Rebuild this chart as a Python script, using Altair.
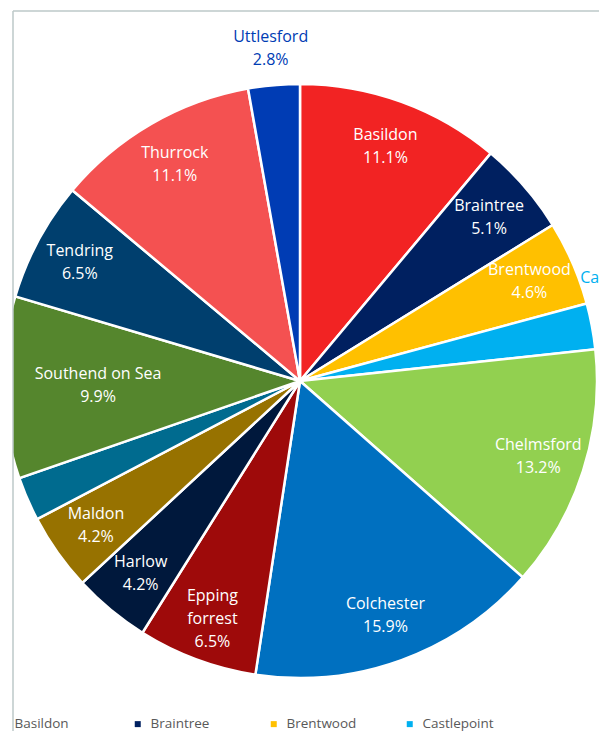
import altair as alt
import pandas as pd

names = ["Basildon", "Braintree", "Brentwood", "Castlepoint", "Chelmsford",
         "Colchester", "Epping forrest", "Harlow", "Maldon", "Rochford",
         "Southend on Sea", "Tendring", "Thurrock", "Uttlesford"]
label_names = ["Basildon", "Braintree", "Brentwood", "Castlepoint", "Chelmsford",
               "Colchester", "Epping\nforrest", "Harlow", "Maldon", "Rochford",
               "Southend on Sea", "Tendring", "Thurrock", "Uttlesford"]
values = [11.1, 5.1, 4.6, 2.5, 13.2, 15.9, 6.5, 4.2, 4.2, 2.4, 9.9, 6.5, 11.1, 2.8]
colors = ["#F22323", "#002060", "#FFC000", "#00B0F0", "#92D050",
          "#0070C0", "#9E0A0A", "#00183C", "#977200", "#006B8F",
          "#55862D", "#003F6E", "#F45151", "#003CB4"]

df = pd.DataFrame({
    "idx": list(range(len(names))),
    "name": names,
    "label_name": label_names,
    "value": values,
})
total = sum(values)

W, H = 586, 720
CX, CY = 287, 370
R = 297
FONT = "Open Sans"
FRAME = "#BCC9C9"
LH = 23

color_scale = alt.Scale(domain=names, range=colors)
theta_scale = alt.Scale(domain=[0, total])

base = alt.Chart(df).transform_window(
    cum="sum(value)", sort=[alt.SortField("idx")], frame=[None, 0]
).transform_calculate(
    start="datum.cum - datum.value",
    mid="datum.cum - datum.value / 2",
    label="datum.label_name + '\\n' + format(datum.value, '.1f') + '%'",
)

pie = base.mark_arc(outerRadius=R, stroke="white", strokeWidth=2.5, clip=True).encode(
    x=alt.value(CX),
    y=alt.value(CY),
    theta=alt.Theta("start:Q", scale=theta_scale),
    theta2="cum:Q",
    color=alt.Color(
        "name:N",
        scale=color_scale,
        sort=names,
        legend=alt.Legend(
            title=None,
            orient="none",
            direction="horizontal",
            legendX=-18,
            legendY=706,
            columns=4,
            symbolType="square",
            symbolSize=36,
            symbolStrokeWidth=0,
            labelFontSize=13.5,
            labelFont=FONT,
            labelColor="#595959",
            labelOffset=6,
            gridAlign="all",
            columnPadding=9,
            rowPadding=8,
            padding=0,
        ),
    ),
)


def labels(test, radius, dy, inside):
    enc = dict(
        x=alt.value(CX),
        y=alt.value(CY),
        theta=alt.Theta("mid:Q", scale=theta_scale),
        radius=alt.value(radius),
        text="label:N",
    )
    if inside:
        enc["color"] = alt.value("white")
    else:
        enc["color"] = alt.Color("name:N", scale=color_scale, legend=None)
    return base.transform_filter(test).mark_text(
        font=FONT, fontSize=16, lineBreak="\n", lineHeight=LH,
        align="center", baseline="middle", dy=dy, clip=True,
    ).encode(**enc)


inside_main = labels(
    "datum.value >= 3 && datum.name !== 'Southend on Sea' && datum.name !== 'Epping forrest'",
    250, -LH / 2, True)
inside_epping = labels("datum.name === 'Epping forrest'", 252, -LH + 2, True)
inside_south = labels("datum.name === 'Southend on Sea'", 202, -LH / 2, True)
out_top = labels("datum.name === 'Uttlesford'", 334, -LH / 2, False)
out_right = labels("datum.name === 'Castlepoint'", 328, -43, False)
out_left = labels("datum.name === 'Rochford'", 370, -43, False)

frame_df = pd.DataFrame({"k": [0]})
top_rule = alt.Chart(frame_df).mark_rule(color=FRAME, strokeWidth=1.5).encode(
    x=alt.value(0), x2=alt.value(W), y=alt.value(0)
)
left_rule = alt.Chart(frame_df).mark_rule(color=FRAME, strokeWidth=1.5).encode(
    x=alt.value(0), y=alt.value(0), y2=alt.value(H)
)

chart = alt.layer(
    pie, inside_main, inside_epping, inside_south, out_top, out_right, out_left,
    top_rule, left_rule
).properties(
    width=W,
    height=H,
    padding={"left": 5, "top": 3, "right": 0, "bottom": 0},
    autosize=alt.AutoSizeParams(type="none"),
    background="white",
).configure_view(
    strokeWidth=0,
)

chart.save("out.html", embed_options={"renderer": "svg", "actions": False})
